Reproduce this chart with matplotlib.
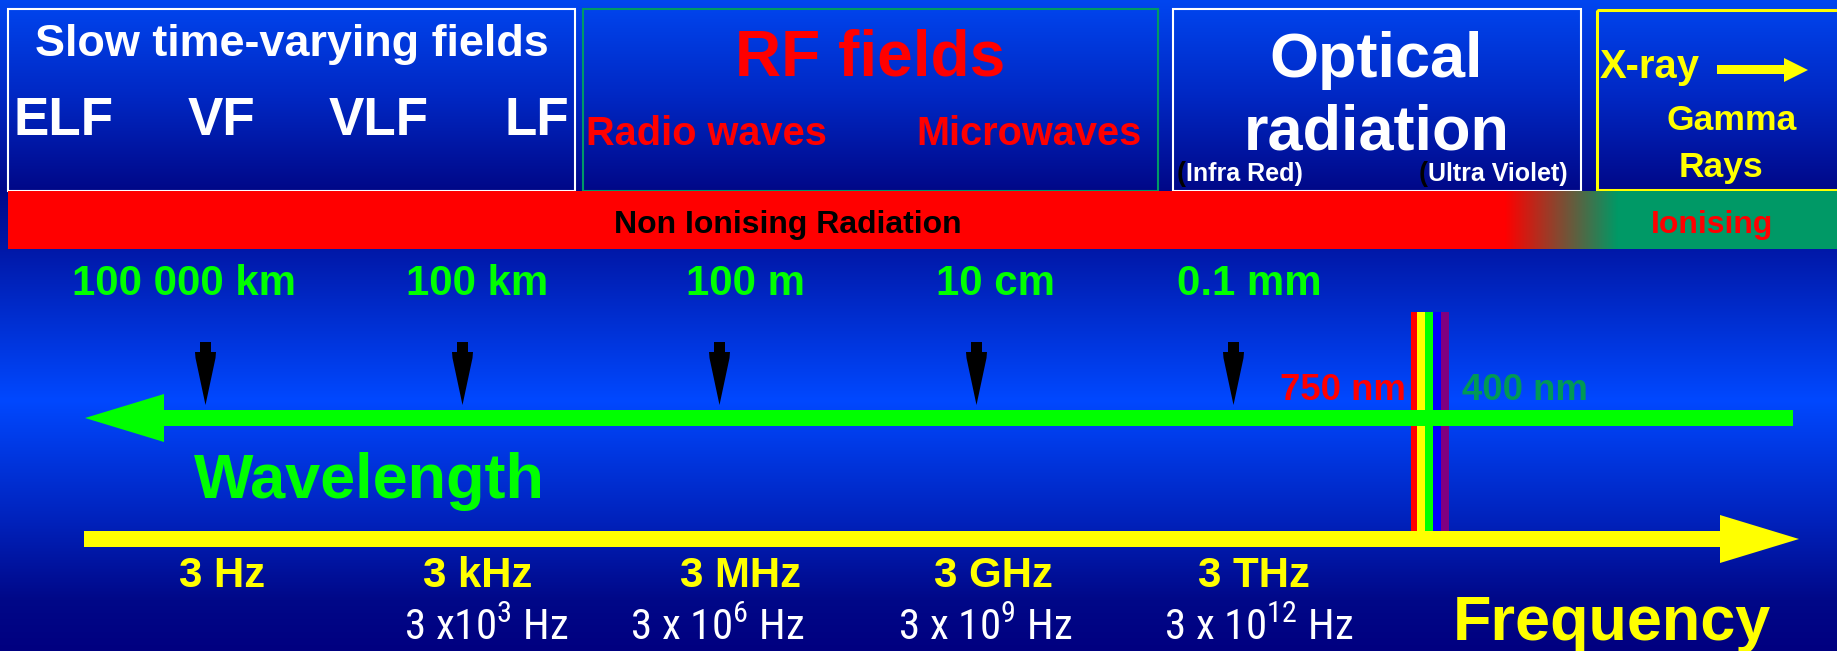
import numpy as np
import matplotlib
matplotlib.use("Agg")
import matplotlib.pyplot as plt
from matplotlib.patches import Rectangle, Polygon
from matplotlib import font_manager as fm
from matplotlib.colors import to_rgb

# ---------------- data ----------------
top_title = "Slow time-varying fields"
band_labels = ["ELF", "VF", "VLF", "LF"]
rf_title = "RF fields"
rf_labels = ["Radio waves", "Microwaves"]
optical_title = ["Optical", "radiation"]
optical_sub = ["Infra Red)", "Ultra Violet)"]
ionising_labels = ["X-ray", "Gamma", "Rays"]
bar_labels = ["Non Ionising Radiation", "Ionising"]
wavelength_labels = ["100 000 km", "100 km", "100 m", "10 cm", "0.1 mm"]
frequency_labels = ["3 Hz", "3 kHz", "3 MHz", "3 GHz", "3 THz"]
frequency_sci_labels = ["", "3 x10$^{3}$ Hz", "3 x 10$^{6}$ Hz",
                        "3 x 10$^{9}$ Hz", "3 x 10$^{12}$ Hz"]
visible_labels = ["750 nm", "400 nm"]
spectrum_colors = ["#ff0000", "#ffff00", "#00ff00", "#0000ff", "#800080"]

# ---------------- fonts ----------------
W, H, DPI = 1837, 651, 100
MAIN = ["Liberation Sans", "DejaVu Sans"]

# look for a condensed face for the white frequency labels
NARROW_FP = None
prefer = ["Liberation Sans Narrow", "Arial Narrow", "Roboto Condensed",
          "Open Sans Condensed", "Noto Sans Condensed"]
entries = fm.fontManager.ttflist
for name in prefer:
    for f in entries:
        if f.name == name and f.style == "normal" and f.weight in (400, "normal", "regular"):
            NARROW_FP = fm.FontProperties(fname=f.fname)
            break
    if NARROW_FP is not None:
        break
if NARROW_FP is None:
    for f in entries:
        if (str(f.stretch) in ("condensed", "semi-condensed", "extra-condensed")
                or "Condensed" in f.fname) and f.style == "normal" \
                and f.weight in (400, "normal", "regular") and "Mono" not in f.name \
                and "Serif" not in f.name:
            NARROW_FP = fm.FontProperties(fname=f.fname)
            break

if NARROW_FP is not None:
    narrow_size = 31
    narrow_file = NARROW_FP.get_file()
    narrow_family = fm.FontProperties(fname=narrow_file).get_name()
    fm.fontManager.addfont(narrow_file)
else:
    narrow_size = 27
    narrow_family = "Liberation Sans"

plt.rcParams["font.family"] = MAIN
plt.rcParams["mathtext.fontset"] = "custom"
plt.rcParams["mathtext.rm"] = narrow_family
plt.rcParams["mathtext.default"] = "regular"

def pt(em_px):
    return em_px * 72.0 / DPI

fig = plt.figure(figsize=(W / DPI, H / DPI), dpi=DPI)
ax = fig.add_axes([0, 0, 1, 1])

# ---------------- background gradient ----------------
stops_y = [0, 95, 190, 249, 400, 520, 600, 651]
stops_c = ["#0046F0", "#0028C4", "#000888", "#0018A8", "#0048FF",
           "#0022BC", "#000888", "#000080"]
ys = np.arange(H) + 0.5
rgb = np.array([to_rgb(c) for c in stops_c])
bg = np.stack([np.interp(ys, stops_y, rgb[:, k]) for k in range(3)], axis=-1)
ax.imshow(bg[:, None, :], extent=(0, W, H, 0), aspect="auto",
          interpolation="bilinear", zorder=0)

# ---------------- boxes ----------------
ax.add_patch(Rectangle((8, 9), 567, 182, fill=False, ec="white", lw=1.5, zorder=2))
ax.add_patch(Rectangle((583, 9), 575, 182, fill=False, ec="#009966", lw=1.5, zorder=2))
ax.add_patch(Rectangle((1173, 9), 408, 182, fill=False, ec="white", lw=1.5, zorder=2))
ax.add_patch(Rectangle((1596.5, 10), 260, 179.5, fill=False, ec="#ffff00", lw=2.2, zorder=2))

# ---------------- ionising bar ----------------
ax.add_patch(Rectangle((8, 191), 1505 - 8, 58, fc="#ff0000", ec="none", zorder=2))
grad_n = 200
c0, c1 = np.array(to_rgb("#ff0000")), np.array(to_rgb("#009966"))
t = np.linspace(0, 1, grad_n)[:, None]
grad = (c0 * (1 - t) + c1 * t)[None, :, :]
ax.imshow(grad, extent=(1505, 1618, 249, 191), aspect="auto",
          interpolation="bilinear", zorder=2)
ax.add_patch(Rectangle((1618, 191), W - 1618 + 5, 58, fc="#009966", ec="none", zorder=2))

# ---------------- top texts ----------------
bold = dict(fontweight="bold", va="baseline", zorder=5)
ax.text(292, 56, top_title, color="white", fontsize=pt(45), ha="center", **bold)
for x, lab in zip([64, 222, 379, 537], band_labels):
    ax.text(x, 135, lab, color="white", fontsize=pt(53), ha="center", **bold)

ax.text(870, 75, rf_title, color="#ff0000", fontsize=pt(64), ha="center", **bold)
ax.text(586, 145, rf_labels[0], color="#ff0000", fontsize=pt(39.8), ha="left", **bold)
ax.text(1142, 145, rf_labels[1], color="#ff0000", fontsize=pt(39.8), ha="right", **bold)

ax.text(1376, 77, optical_title[0], color="white", fontsize=pt(63), ha="center", **bold)
ax.text(1377, 150, optical_title[1], color="white", fontsize=pt(63), ha="center", **bold)
for xp, lab in zip([1177, 1419], optical_sub):
    ax.text(xp, 181, "(", color="black", fontsize=pt(27), ha="left", **bold)
    ax.text(xp + 9.5, 181, lab, color="white", fontsize=pt(25), ha="left", **bold)

ax.text(1600, 78, ionising_labels[0], color="#ffff00", fontsize=pt(40), ha="left", **bold)
ax.add_patch(Rectangle((1717, 65), 1784 - 1717, 9, fc="#ffff00", ec="none", zorder=5))
ax.add_patch(Polygon([(1784, 58), (1784, 82), (1808, 70)], closed=True,
                     fc="#ffff00", ec="none", zorder=5))
ax.text(1732, 130, ionising_labels[1], color="#ffff00", fontsize=pt(35.5), ha="center", **bold)
ax.text(1721, 177, ionising_labels[2], color="#ffff00", fontsize=pt(35.5), ha="center", **bold)

ax.text(614, 233, bar_labels[0], color="black", fontsize=pt(32), ha="left", **bold)
ax.text(1712, 233, bar_labels[1], color="#ff0000", fontsize=pt(32), ha="center", **bold)

# ---------------- wavelength axis ----------------
for x, lab in zip([184, 477, 745, 996, 1249], wavelength_labels):
    ax.text(x, 295, lab, color="#00ff00", fontsize=pt(42), ha="center", **bold)

for i in range(len(wavelength_labels)):
    x = 205.5 + 257 * i
    ax.add_patch(Rectangle((x - 5.5, 342), 11, 10, fc="black", ec="none", zorder=4))
    ax.add_patch(Polygon([(x - 10.5, 352), (x + 10.5, 352), (x + 10, 358),
                          (x, 405), (x - 10, 358)], closed=True,
                         fc="black", ec="none", zorder=4))

# visible spectrum stripes
edges = [1411, 1417, 1425.3, 1433.3, 1441.3, 1449.3]
for k, col in enumerate(spectrum_colors):
    ax.add_patch(Rectangle((edges[k], 312), edges[k + 1] - edges[k], 531 - 312,
                           fc=col, ec="none", zorder=3))

# green wavelength arrow (pointing left)
ax.add_patch(Rectangle((163, 410), 1793 - 163, 16, fc="#00ff00", ec="none", zorder=4))
ax.add_patch(Polygon([(164, 394), (164, 442), (85, 418)], closed=True,
                     fc="#00ff00", ec="none", zorder=4))
ax.text(194, 498, "Wavelength", color="#00ff00", fontsize=pt(63), ha="left", **bold)

ax.text(1406, 400, visible_labels[0], color="#ff0000", fontsize=pt(36.5), ha="right", **bold)
ax.text(1462, 400, visible_labels[1], color="#009955", fontsize=pt(36.5), ha="left", **bold)

# ---------------- frequency axis ----------------
ax.add_patch(Rectangle((84, 531), 1721 - 84, 16, fc="#ffff00", ec="none", zorder=4))
ax.add_patch(Polygon([(1720, 515), (1720, 563), (1799, 539)], closed=True,
                     fc="#ffff00", ec="none", zorder=4))

for x, lab in zip([222, 478, 740, 993, 1254], frequency_labels):
    ax.text(x, 587, lab, color="#ffff00", fontsize=pt(42), ha="center", **bold)

for x, lab in zip([None, 486, 717, 985, 1259], frequency_sci_labels):
    if lab:
        ax.text(x, 640, lab, color="white", fontsize=narrow_size, ha="center",
                va="baseline", family=narrow_family, zorder=5)

ax.text(1453, 640, "Frequency", color="#ffff00", fontsize=pt(63), ha="left", **bold)

ax.set_xlim(0, W)
ax.set_ylim(H, 0)
ax.axis("off")
fig.savefig("out.png", dpi=DPI)
